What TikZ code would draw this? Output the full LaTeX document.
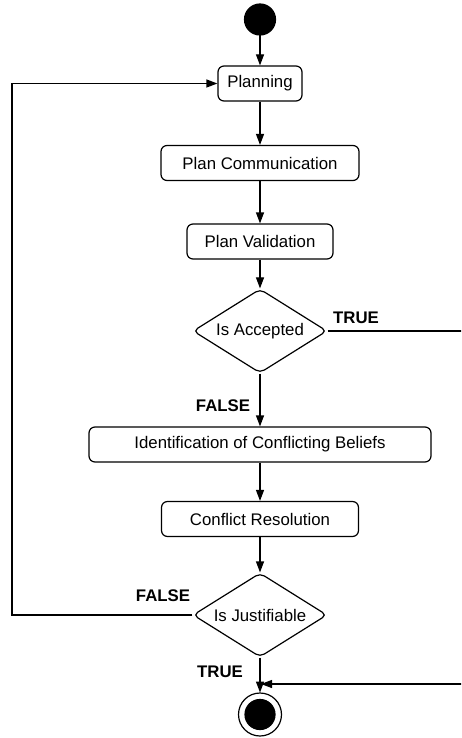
\documentclass[tikz,border=0pt]{standalone}
\usepackage{fontspec}
\setmainfont{Liberation Sans}
\usetikzlibrary{shapes.geometric,arrows.meta}
\begin{document}
\begin{tikzpicture}[x=1pt,y=-1pt,line width=1.2pt,
    every node/.style={font=\fontsize{16.8}{19}\selectfont},
    activity/.style={draw,rounded corners=6pt,inner sep=0pt,minimum height=35pt},
    decision/.style={draw,diamond,aspect=2,rounded corners=5pt,inner sep=0pt,minimum width=134pt,minimum height=84pt},
    guard/.style={font=\fontsize{16.8}{19}\selectfont\bfseries},
    flow/.style={-{Triangle[length=11pt,width=8pt]}}]
    \useasboundingbox (0,0) rectangle (461,738);
    \clip (0,0) rectangle (461,738);
    \filldraw [black] (260,19.5) circle (15.5pt);
    \coordinate (start) at (260,35);
    \node[activity, minimum width=84pt] (planning) at (260,83.5) {Planning};
    \node[activity, minimum width=198pt] (comm) at (260,163) {Plan Communication};
    \node[activity, minimum width=146pt] (valid) at (260,241.5) {Plan Validation};
    \node[decision] (accepted) at (260,331) {Is Accepted};
    \node[activity, minimum width=342pt] (ident) at (260,444.5) {Identification of Conflicting Beliefs};
    \node[activity, minimum width=197pt] (resol) at (260,519) {Conflict Resolution};
    \node[decision] (justif) at (260,615) {Is Justifiable};
    \draw (260,714.5) circle (21.5pt);
    \filldraw [black] (260,714.5) circle (15pt);
    \coordinate (final) at (260,692.5);
    \coordinate (merge) at (261,684);
    \coordinate (loopbot) at (12,615);
    \coordinate (looptop) at (12,83.5);
    \coordinate (rightup) at (475,331);
    \coordinate (rightdown) at (475,684);
    \draw[flow] (start) -- (planning);
    \draw[flow] (planning) -- (comm);
    \draw[flow] (comm) -- (valid);
    \draw[flow] (valid) -- (accepted);
    \draw[flow] (accepted) -- (ident);
    \draw[flow] (ident) -- (resol);
    \draw[flow] (resol) -- (justif);
    \draw[flow] (justif) -- (final);
    \draw[flow] (justif.west) -- (loopbot) -- (looptop) -- (planning.west);
    \draw[flow] (accepted.east) -- (rightup) -- (rightdown) -- (merge);
    \node[guard] (acctrue) at (356,318) {TRUE};
    \node[guard] (accfalse) at (223,406) {FALSE};
    \node[guard] (jusfalse) at (163,596) {FALSE};
    \node[guard] (justrue) at (220,672) {TRUE};
\end{tikzpicture}
\end{document}
